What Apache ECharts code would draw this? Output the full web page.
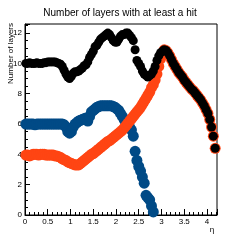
<!DOCTYPE html>
<html>
<head>
<meta charset="utf-8">
<script src="https://cdn.jsdelivr.net/npm/echarts@6/dist/echarts.min.js"></script>
<style>
  html, body { margin: 0; padding: 0; background: #fff; }
  #hits { width: 240px; height: 240px; }
</style>
</head>
<body>
<div id="hits"></div>
<script>
var eta = [0.02, 0.06, 0.10, 0.14, 0.18, 0.22, 0.26, 0.30, 0.34, 0.38, 0.42, 0.46, 0.50, 0.54, 0.58,
    0.62, 0.66, 0.70, 0.74, 0.78, 0.82, 0.86, 0.90, 0.94, 0.98, 1.02, 1.06, 1.10, 1.14, 1.18,
    1.22, 1.26, 1.30, 1.34, 1.38, 1.42, 1.46, 1.50, 1.54, 1.58, 1.62, 1.66, 1.70, 1.74, 1.78,
    1.82, 1.86, 1.90, 1.94, 1.98, 2.02, 2.06, 2.10, 2.14, 2.18, 2.22, 2.26, 2.30, 2.34, 2.38,
    2.42, 2.46, 2.50, 2.54, 2.58, 2.62, 2.66, 2.70, 2.74, 2.78, 2.82, 2.86, 2.90, 2.94, 2.98,
    3.02, 3.06, 3.10, 3.14, 3.18, 3.22, 3.26, 3.30, 3.34, 3.38, 3.42, 3.46, 3.50, 3.54, 3.58,
    3.62, 3.66, 3.70, 3.74, 3.78, 3.82, 3.86, 3.90, 3.94, 3.98, 4.02, 4.06, 4.10, 4.14, 4.18];

// black: all layers
var layersAll = [10.0, 10.0, 10.05, 10.0, 10.0, 10.0, 10.05, 10.0, 10.0, 10.0, 10.05, 10.05, 10.1, 10.1, 10.1,
    10.1, 10.1, 10.05, 10.0, 9.95, 9.8, 9.55, 9.3, 9.1, 9.0, 9.15, 9.35, 9.45, 9.45, 9.5,
    9.6, 9.7, 9.85, 9.9, 10.1, 10.4, 10.6, 10.8, 11.1, 11.2, 11.4, 11.6, 11.7, 11.8, 11.9,
    12.0, 11.9, 11.7, 11.5, 11.4, 11.4, 11.6, 11.8, 11.9, 11.9, 12.0, 12.0, 11.85, 11.7, 11.5,
    10.9, 10.2, 10.0, 9.8, 9.5, 9.3, 9.2, 9.1, 9.2, 9.3, 9.5, 9.8, 10.2, 10.5, 10.7,
    10.8, 10.9, 10.85, 10.7, 10.5, 10.25, 10.0, 9.8, 9.6, 9.4, 9.25, 9.1, 8.9, 8.75, 8.6,
    8.45, 8.3, 8.2, 8.05, 7.9, 7.75, 7.6, 7.4, 7.2, 6.95, 6.7, 6.3, 5.8, 5.2, 4.4];

// orange
var layersFwd = [3.95, 3.95, 3.9, 3.95, 4.0, 4.0, 4.0, 3.95, 4.0, 4.0, 4.0, 3.95, 3.95, 3.95, 3.95,
    3.95, 3.9, 3.9, 3.85, 3.8, 3.7, 3.65, 3.6, 3.5, 3.45, 3.4, 3.35, 3.3, 3.3, 3.3,
    3.4, 3.5, 3.6, 3.7, 3.8, 3.9, 4.0, 4.05, 4.15, 4.25, 4.35, 4.45, 4.55, 4.65, 4.75,
    4.85, 4.9, 5.0, 5.1, 5.2, 5.3, 5.4, 5.5, 5.6, 5.75, 5.9, 6.05, 6.2, 6.35, 6.5,
    6.65, 6.8, 6.95, 7.1, 7.3, 7.5, 7.7, 7.9, 8.1, 8.4, 8.6, 8.9, 9.3, 9.8, 10.3,
    10.7, 10.9, 10.85, 10.7, 10.5, 10.25, 10.0, 9.8, 9.6, 9.4, 9.25, 9.1, 8.9, 8.75, 8.6,
    8.45, 8.3, 8.2, 8.05, 7.9, 7.75, 7.6, 7.4, 7.2, 6.95, 6.7, 6.3, 5.8, 5.2, 4.4];

// blue, stops at eta 2.82
var layersBrl = [6.0, 6.0, 6.0, 6.0, 6.0, 5.95, 6.0, 6.0, 6.0, 6.0, 6.0, 6.0, 6.0, 6.0, 6.0,
    6.0, 6.0, 6.0, 6.0, 6.0, 6.0, 5.95, 5.8, 5.5, 5.4, 5.5, 5.8, 6.0, 6.1, 6.2,
    6.25, 6.3, 6.35, 6.4, 6.2, 6.5, 6.8, 6.9, 7.0, 7.1, 7.15, 7.2, 7.2, 7.2, 7.2,
    7.2, 7.2, 7.2, 7.15, 7.1, 7.0, 6.9, 6.7, 6.5, 6.3, 6.1, 5.95, 5.8, 5.6, 5.2,
    4.2, 3.6, 3.2, 2.9, 2.5, 2.1, 1.3, 1.15, 1.0, 0.6, 0.2];

function pairs(vals) {
    var out = [];
    for (var i = 0; i < vals.length; i++) out.push([eta[i], vals[i]]);
    return out;
}

var font = 'Liberation Sans';
var myChart = echarts.init(document.getElementById('hits'));
var option = {
    animation: false,
    title: {
        text: 'Number of layers with at least a hit',
        left: 'center',
        top: 3,
        textStyle: { fontFamily: font, fontSize: 10, fontWeight: 'normal', color: '#000' }
    },
    grid: {
        left: 25, right: 23, top: 24, bottom: 25,
        show: true, borderColor: '#000', borderWidth: 1
    },
    xAxis: {
        type: 'value',
        min: 0, max: 4.22, interval: 0.5,
        axisLine: { lineStyle: { color: '#000', width: 1 } },
        axisTick: { inside: true, length: 6, lineStyle: { color: '#000' } },
        minorTick: { show: true, splitNumber: 5, length: 3, lineStyle: { color: '#000' } },
        splitLine: { show: false },
        axisLabel: {
            margin: 3, fontFamily: font, fontSize: 8, color: '#000',
            formatter: function (v) {
                return Math.abs(v * 2 - Math.round(v * 2)) < 1e-6 ? String(v) : '';
            }
        }
    },
    yAxis: {
        type: 'value',
        min: 0, max: 12.6, interval: 2,
        axisLine: { show: true, lineStyle: { color: '#000', width: 1 } },
        axisTick: { show: true, inside: true, length: 5, lineStyle: { color: '#000' } },
        minorTick: { show: true, splitNumber: 4, length: 3, lineStyle: { color: '#000' } },
        splitLine: { show: false },
        axisLabel: {
            margin: 3, fontFamily: font, fontSize: 8, color: '#000',
            formatter: function (v) { return v % 2 === 0 ? String(v) : ''; }
        }
    },
    graphic: [
        {
            type: 'text', x: 11, y: 23, rotation: Math.PI / 2,
            style: { text: 'Number of layers', font: '8px "Liberation Sans"', fill: '#000',
                     align: 'right', verticalAlign: 'middle' }
        },
        {
            type: 'text', x: 212, y: 230,
            style: { text: 'η', font: '8px "Liberation Sans"', fill: '#000',
                     align: 'center', verticalAlign: 'middle' }
        }
    ],
    series: [
        { type: 'scatter', symbol: 'circle', symbolSize: 11, data: pairs(layersBrl),
          itemStyle: { color: '#004a86', opacity: 1 } },
        { type: 'scatter', symbol: 'circle', symbolSize: 11, data: pairs(layersFwd),
          itemStyle: { color: '#ff4513', opacity: 1 } },
        { type: 'scatter', symbol: 'circle', symbolSize: 9, data: pairs(layersAll),
          itemStyle: { color: '#000', opacity: 1 } }
    ]
};
myChart.setOption(option);
</script>
</body>
</html>
